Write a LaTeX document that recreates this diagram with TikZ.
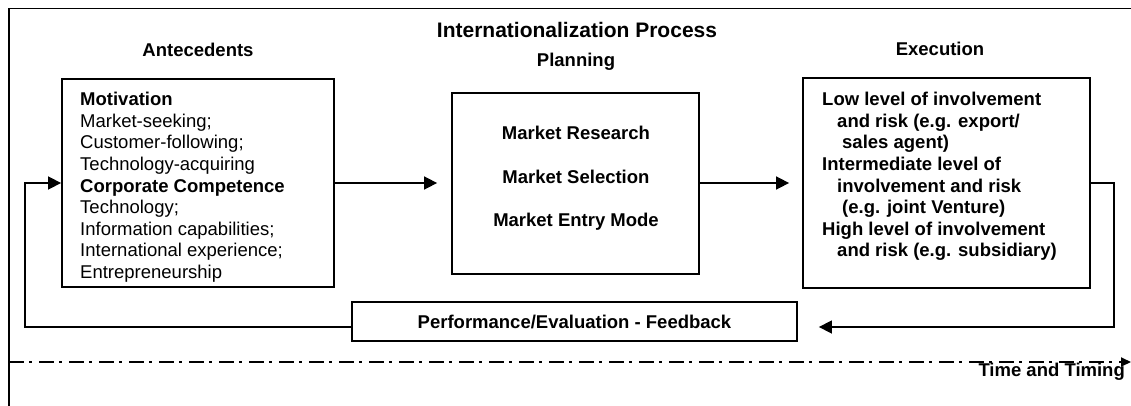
\documentclass[tikz,border=0pt]{standalone}
\usepackage{fontspec}
\setmainfont{Liberation Sans}
\usetikzlibrary{arrows.meta}

\begin{document}
\begin{tikzpicture}[x=1pt, y=-1pt,
    txt/.style={inner sep=0pt, font=\fontsize{18.5}{21.6}\selectfont},
    bold/.style={txt, font=\fontsize{18.5}{21.6}\selectfont\bfseries},
    box/.style={draw, line width=1.8pt, inner sep=0pt},
    arr/.style={line width=1.6pt, -{Triangle[length=13pt,width=13pt]}}]
    \useasboundingbox (0,0) rectangle (1131,406);
    % frame and time axis
    \draw[line width=1.8pt] (9,406) -- (9,8.5) -- (1131,8.5);
    \draw[line width=1.8pt, dash pattern=on 15pt off 5pt on 3pt off 7pt,
          -{Triangle[length=10pt,width=9pt]}] (9,362) -- (1131,362);
    \node[bold, anchor=north east] (timing) at (1125,363) {Time and Timing};

    % headings
    \node[bold, font=\fontsize{21}{24}\selectfont\bfseries] (title) at (577,30) {Internationalization Process};
    \node[bold] (antehead) at (198,50) {Antecedents};
    \node[bold] (planhead) at (576,62) {Planning};
    \node[bold] (exechead) at (940,49) {Execution};

    % the three stages
    \node[box, minimum width=272pt, minimum height=208pt] (ante) at (198,183) {};
    \node[box, minimum width=247pt, minimum height=181pt] (plan) at (575.5,183.5) {};
    \node[box, minimum width=287pt, minimum height=210pt] (exec) at (946.5,183) {};
    \node[txt, anchor=north west, align=left] (antetext) at (80,92)
        {\textbf{Motivation}\\Market-seeking;\\Customer-following;\\Technology-acquiring\\
         \textbf{Corporate Competence}\\Technology;\\Information capabilities;\\
         International experience;\\Entrepreneurship};
    \node[bold, anchor=north, align=center] (plantext) at (576,126)
        {Market Research\\[22pt]Market Selection\\[22pt]Market Entry Mode};
    \node[bold, anchor=north west, align=left] (exectext) at (822,92)
        {Low level of involvement\\\hspace*{15pt}and risk (e.g. export/\\\hspace*{20pt}sales agent)\\
         Intermediate level of\\\hspace*{15pt}involvement and risk\\\hspace*{20pt}(e.g. joint Venture)\\
         High level of involvement\\\hspace*{15pt}and risk (e.g. subsidiary)};
    \node[box, bold, minimum width=445pt, minimum height=39pt] (feedback) at (574.5,321.5)
        {Performance/Evaluation - Feedback};

    % flow and feedback loop
    \coordinate (retR) at (1114,327);
    \coordinate (retL) at (25,327);
    \draw[arr, shorten >=14pt] (ante.east) -- (ante.east -| plan.west);
    \draw[arr, shorten >=13pt] (plan.east |- exec.east) -- (exec.west);
    \draw[arr, shorten >=21pt] (exec.east) -| (retR) -- (retR -| feedback.east);
    \draw[arr] (retL -| feedback.west) -- (retL) |- (ante.west);
\end{tikzpicture}
\end{document}
